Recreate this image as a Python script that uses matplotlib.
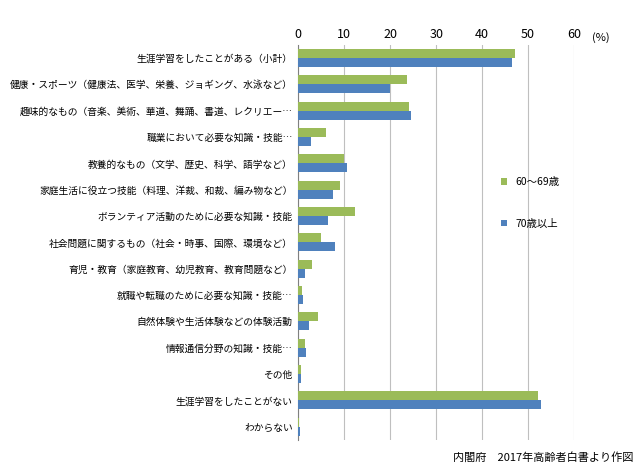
import matplotlib
matplotlib.use("Agg")
import matplotlib.pyplot as plt
import numpy as np

categories = ["生涯学習をしたことがある（小計）", "健康・スポーツ（健康法、医学、栄養、ジョギング、水泳など）",
              "趣味的なもの（音楽、美術、華道、舞踊、書道、レクリエー…", "職業において必要な知識・技能…",
              "教養的なもの（文学、歴史、科学、語学など）", "家庭生活に役立つ技能（料理、洋裁、和裁、編み物など）",
              "ボランティア活動のために必要な知識・技能", "社会問題に関するもの（社会・時事、国際、環境など）",
              "育児・教育（家庭教育、幼児教育、教育問題など）", "就職や転職のために必要な知識・技能…",
              "自然体験や生活体験などの体験活動", "情報通信分野の知識・技能…", "その他",
              "生涯学習をしたことがない", "わからない"]
s60 = [47.2, 23.7, 24.1, 6.1, 10.0, 9.1, 12.4, 5.0, 3.0, 0.9, 4.3, 1.5, 0.7, 52.2, 0.2]
s70 = [46.5, 20.0, 24.6, 2.8, 10.7, 7.6, 6.5, 8.0, 1.5, 1.1, 2.4, 1.6, 0.7, 52.8, 0.3]
xticks = [0, 10, 20, 30, 40, 50, 60]

plt.rcParams["font.family"] = "Noto Sans CJK JP"
fig = plt.figure(figsize=(6.4, 4.72), dpi=100)
ax = fig.add_axes([0.466, 0.068, 0.431, 0.837])
y = np.arange(len(categories))
h = 0.34
ax.barh(y - h/2, s60, height=h, color="#9BBB59", label="60～69歳", zorder=3)
ax.barh(y + h/2, s70, height=h, color="#4F81BD", label="70歳以上", zorder=3)
ax.set_ylim(len(categories) - 0.5, -0.5)
ax.set_xlim(0, 60)
ax.set_xticks(xticks)
ax.xaxis.tick_top()
ax.tick_params(axis="x", labelsize=9, length=0, pad=3)
ax.set_yticks(y)
ax.set_yticklabels(categories, fontsize=7)
ax.tick_params(axis="y", length=0, pad=4)
ax.grid(axis="x", color="#BFBFBF", linewidth=0.8, zorder=0)
for s in ["top", "right", "bottom"]:
    ax.spines[s].set_visible(False)
ax.spines["left"].set_color("#808080")
fig.text(0.925, 0.92, "(%)", fontsize=8, ha="left", va="center")
ax.legend(loc="center left", bbox_to_anchor=(0.7, 0.6), frameon=False, fontsize=7.5,
          handlelength=0.6, handleheight=0.6, labelspacing=3)
fig.text(0.99, 0.02, "内閣府　2017年高齢者白書より作図", fontsize=8, ha="right", va="bottom")
fig.savefig("out.png", dpi=100)
